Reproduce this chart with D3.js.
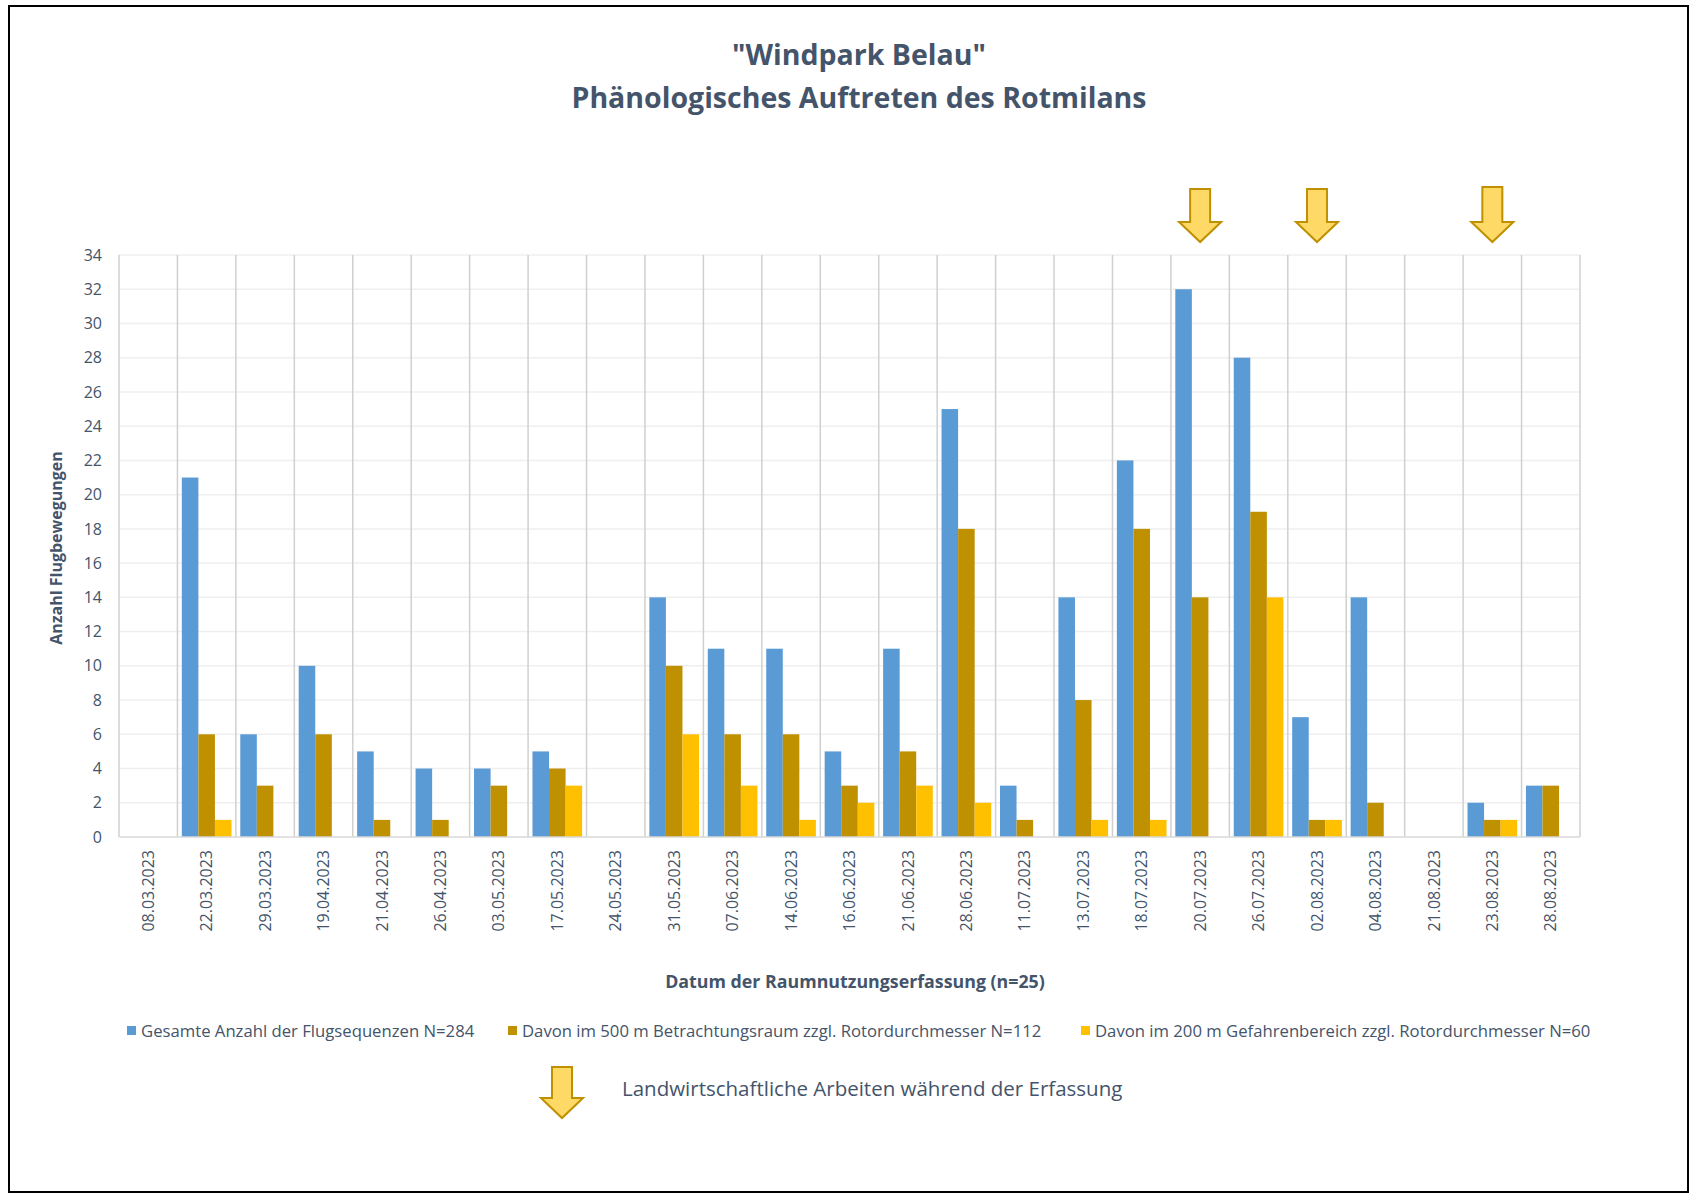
<!DOCTYPE html>
<html><head><meta charset="utf-8">
<script src="https://cdn.jsdelivr.net/npm/d3@7"></script>
<style>
html,body{margin:0;padding:0;background:#fff;}
svg{display:block;font-family:"Open Sans",sans-serif;}
</style></head>
<body>
<svg id="chart" width="1691" height="1194"></svg>
<script>
const categories = ["08.03.2023","22.03.2023","29.03.2023","19.04.2023","21.04.2023","26.04.2023","03.05.2023","17.05.2023","24.05.2023","31.05.2023","07.06.2023","14.06.2023","16.06.2023","21.06.2023","28.06.2023","11.07.2023","13.07.2023","18.07.2023","20.07.2023","26.07.2023","02.08.2023","04.08.2023","21.08.2023","23.08.2023","28.08.2023"];
const gesamt   = [0,21,6,10,5,4,4,5,0,14,11,11,5,11,25,3,14,22,32,28,7,14,0,2,3];
const davon500 = [0,6,3,6,1,1,3,4,0,10,6,6,3,5,18,1,8,18,14,19,1,2,0,1,3];
const davon200 = [0,1,0,0,0,0,0,3,0,6,3,1,2,3,2,0,1,1,0,14,1,0,0,1,0];
const seriesNames = ["Gesamte Anzahl der Flugsequenzen N=284","Davon im 500 m Betrachtungsraum zzgl. Rotordurchmesser N=112","Davon im 200 m Gefahrenbereich zzgl. Rotordurchmesser N=60"];
const seriesColors = ["#5B9BD5","#BF9000","#FFC000"];
const yTicks = [0,2,4,6,8,10,12,14,16,18,20,22,24,26,28,30,32,34];
const arrowDates = ["20.07.2023","02.08.2023","23.08.2023"];
const titleLines = ["\"Windpark Belau\"","Phänologisches Auftreten des Rotmilans"];
const yTitle = "Anzahl Flugbewegungen";
const xTitle = "Datum der Raumnutzungserfassung (n=25)";
const noteText = "Landwirtschaftliche Arbeiten während der Erfassung";

(function(){
const textColor = "#44546A";
const svg = d3.select("#chart");

// frame
svg.append("rect").attr("x",9).attr("y",6).attr("width",1679).attr("height",1186)
  .attr("fill","none").attr("stroke","#000").attr("stroke-width",2);

// title
svg.append("g").selectAll("text").data(titleLines).join("text")
  .attr("x",859).attr("y",(d,i)=> i===0 ? 65 : 108)
  .attr("text-anchor","middle").attr("fill",textColor)
  .attr("font-weight","bold").attr("font-size",28.5)
  .text(d=>d);

const pL=119, pR=1580, pT=255, pB=837;
const x = d3.scaleBand().domain(categories).range([pL,pR]).padding(0);
const bw = x.bandwidth();
const xs = d3.scaleBand().domain(d3.range(3)).range([bw*0.075,bw*0.925]).padding(0);
const y = d3.scaleLinear().domain([0,34]).range([pB,pT]);

// horizontal gridlines
svg.append("g").selectAll("line").data(yTicks.filter(t=>t>0)).join("line")
  .attr("x1",pL).attr("x2",pR).attr("y1",d=>y(d)).attr("y2",d=>y(d))
  .attr("stroke","#EFEFEF").attr("stroke-width",1.5);

// vertical separators
const bounds = categories.map(c=>x(c)).concat([pR]);
svg.append("g").selectAll("line").data(bounds).join("line")
  .attr("x1",d=>d).attr("x2",d=>d).attr("y1",pT).attr("y2",pB)
  .attr("stroke","#D0D0D0").attr("stroke-width",1.5);

// bars
const seriesData = [gesamt,davon500,davon200];
const barG = svg.append("g");
seriesData.forEach((vals,si)=>{
  barG.append("g").selectAll("rect").data(vals.map((v,i)=>({c:categories[i],v}))).join("rect")
    .attr("x",d=>x(d.c)+xs(si)).attr("width",xs.bandwidth())
    .attr("y",d=>y(d.v)).attr("height",d=>y(0)-y(d.v))
    .attr("fill",seriesColors[si]);
});

// baseline
svg.append("line").attr("x1",pL).attr("x2",pR).attr("y1",pB).attr("y2",pB)
  .attr("stroke","#D9D9D9").attr("stroke-width",1.5);

// y axis labels
const yAxis = d3.axisLeft(y).tickValues(yTicks).tickSize(0).tickPadding(0);
const yG = svg.append("g").attr("transform",`translate(${pL-17},0)`).call(yAxis);
yG.select(".domain").remove();
yG.selectAll("text").attr("fill",textColor).attr("font-size",16).attr("font-family","'Open Sans',sans-serif");

// x axis labels
const xAxis = d3.axisBottom(x).tickSize(0).tickPadding(0);
const xG = svg.append("g").attr("transform",`translate(0,${pB})`).call(xAxis);
xG.select(".domain").remove();
xG.selectAll("text")
  .attr("fill",textColor).attr("font-size",16).attr("font-family","'Open Sans',sans-serif")
  .attr("transform","rotate(-90)").attr("text-anchor","end")
  .attr("x",-13).attr("y",0).attr("dy","0.35em");

// axis titles
svg.append("text").attr("transform",`translate(62,548) rotate(-90)`)
  .attr("text-anchor","middle").attr("fill",textColor).attr("font-weight","bold").attr("font-size",16)
  .text(yTitle);
svg.append("text").attr("x",855).attr("y",988)
  .attr("text-anchor","middle").attr("fill",textColor).attr("font-weight","bold").attr("font-size",17.8)
  .text(xTitle);

// legend
const legX = [127,508,1081];
const lg = svg.append("g").selectAll("g").data(seriesNames).join("g")
  .attr("transform",(d,i)=>`translate(${legX[i]},1031)`);
lg.append("rect").attr("x",0).attr("y",-5).attr("width",9).attr("height",9).attr("fill",(d,i)=>seriesColors[i]);
lg.append("text").attr("x",14).attr("y",0).attr("dy","0.35em").attr("fill",textColor).attr("font-size",16.7).text(d=>d);

// arrow shape
function arrowPath(cx, yTop, yHead, yTip){
  const sw=10, hw=21;
  return `M${cx-sw},${yTop}L${cx+sw},${yTop}L${cx+sw},${yHead}L${cx+hw},${yHead}L${cx},${yTip}L${cx-hw},${yHead}L${cx-sw},${yHead}Z`;
}
svg.append("g").selectAll("path").data(arrowDates).join("path")
  .attr("d",(d,i)=>arrowPath(x(d)+bw/2, i===2?187:189, 222, 242))
  .attr("fill","#FFD966").attr("stroke","#BF9000").attr("stroke-width",2).attr("stroke-linejoin","miter");

// note arrow + text
svg.append("path").attr("d",arrowPath(562,1067,1098,1118))
  .attr("fill","#FFD966").attr("stroke","#BF9000").attr("stroke-width",2);
svg.append("text").attr("x",622).attr("y",1089).attr("dy","0.35em")
  .attr("fill",textColor).attr("font-size",20.5).text(noteText);
})();
</script>
</body></html>
